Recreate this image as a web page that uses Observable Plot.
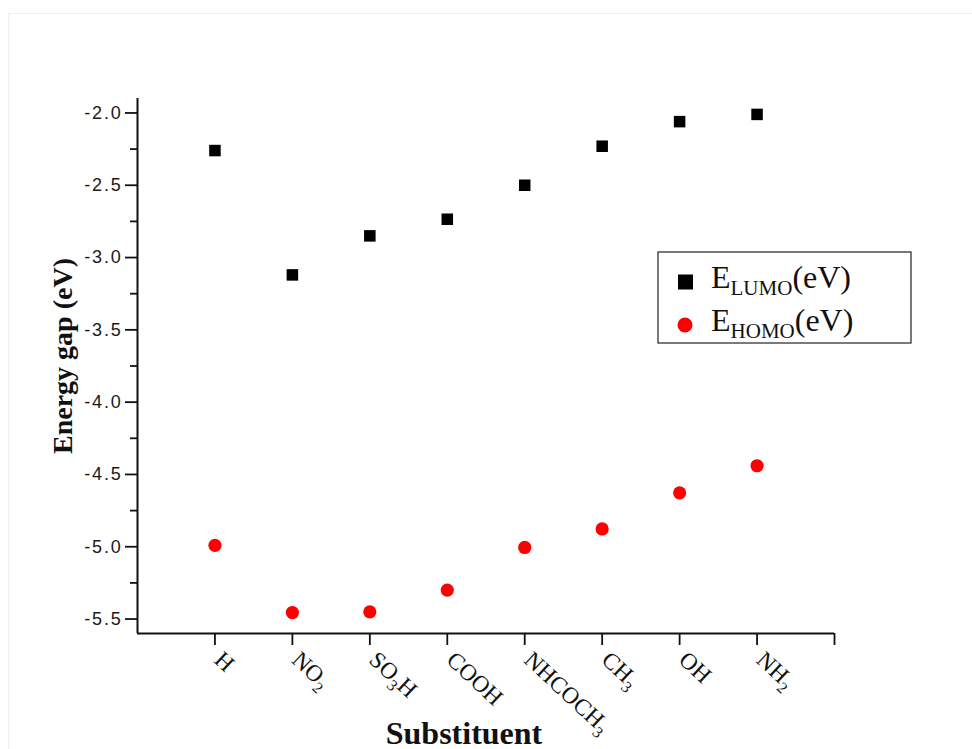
<!DOCTYPE html>
<html>
<head>
<meta charset="utf-8">
<script src="https://cdn.jsdelivr.net/npm/d3@7"></script>
<script src="https://cdn.jsdelivr.net/npm/@observablehq/plot@0.6"></script>
<style>
  html, body { margin: 0; padding: 0; background: #fff; }
  svg { display: block; }
</style>
</head>
<body>
<div id="chart"></div>
<script>
// ---- data ----
const substituents = ["H", "NO_2", "SO_3H", "COOH", "NHCOCH_3", "CH_3", "OH", "NH_2"];
const eLumo = [-2.26, -3.12, -2.85, -2.735, -2.50, -2.23, -2.06, -2.01];
const eHomo = [-4.99, -5.455, -5.45, -5.30, -5.005, -4.877, -4.627, -4.44];
const yMajorTicks = [-2.0, -2.5, -3.0, -3.5, -4.0, -4.5, -5.0, -5.5];
const yMinorTicks = [-2.25, -2.75, -3.25, -3.75, -4.25, -4.75, -5.25];
const yDomain = [-5.6, -1.9];
const legendNames = [["E", "LUMO", "(eV)"], ["E", "HOMO", "(eV)"]];
const yTitle = "Energy gap (eV)";
const xTitle = "Substituent";

const rows = substituents.map((s, i) => ({pos: i + 1, label: s, lumo: eLumo[i], homo: eHomo[i]}));
const xDomain = [0, substituents.length + 1];
const xTicks = d3.range(1, substituents.length + 2);
const serif = "'Liberation Serif','Times New Roman',serif";
const sans = "'Liberation Sans',Arial,sans-serif";

const plot = Plot.plot({
  width: 972,
  height: 749,
  marginLeft: 137,
  marginRight: 138,
  marginTop: 98,
  marginBottom: 116,
  x: {domain: xDomain},
  y: {domain: yDomain},
  style: {background: "transparent", color: "#111"},
  marks: [
    Plot.axisY({ticks: yMinorTicks, tickSize: 7, fill: "none", label: null, strokeWidth: 1.8}),
    Plot.axisY({ticks: yMajorTicks, tickSize: 12, tickPadding: 3, tickFormat: d => d.toFixed(1),
      fontSize: 18, fontFamily: sans, label: null, strokeWidth: 1.8, fill: "#1a1a1a"}),
    Plot.axisX({ticks: xTicks, tickSize: 12, fill: "none", label: null, strokeWidth: 1.8}),
    Plot.ruleX([xDomain[0]], {stroke: "#111", strokeWidth: 2}),
    Plot.ruleY([yDomain[0]], {stroke: "#111", strokeWidth: 2}),
    Plot.text(rows, {x: "pos", text: "label", frameAnchor: "bottom", dx: -2, dy: 28, rotate: 43,
      textAnchor: "start", lineAnchor: "bottom", fontSize: 23.5, fontFamily: serif, fill: "#111"}),
    Plot.text([yTitle], {frameAnchor: "left", dx: -74, dy: -10, rotate: -90, textAnchor: "middle",
      fontSize: 28, fontWeight: "bold", fontFamily: serif, fill: "#111"}),
    Plot.text([xTitle], {frameAnchor: "bottom", dx: -22, dy: 110, textAnchor: "middle", lineAnchor: "bottom",
      fontSize: 32, fontWeight: "bold", fontFamily: serif, fill: "#111"}),
    Plot.dot(rows, {x: "pos", y: "lumo", symbol: "square", r: 6.5, fill: "#000"}),
    Plot.dot(rows, {x: "pos", y: "homo", symbol: "circle", r: 6.6, fill: "#ff0000"})
  ]
});

document.getElementById("chart").appendChild(plot);
const svg = d3.select(plot);

// subscripts in x tick labels
svg.selectAll("text").each(function() {
  const t = this.textContent;
  if (!t.includes("_")) return;
  const sel = d3.select(this);
  sel.text(null);
  const parts = t.split(/_(\d)/);
  let shifted = false;
  parts.forEach((p, k) => {
    if (!p) return;
    const ts = sel.append("tspan").text(p);
    if (k % 2 === 1) { ts.attr("font-size", 16).attr("dy", 6); shifted = true; }
    else if (shifted) { ts.attr("dy", -6); shifted = false; }
  });
});

svg.selectAll('g[aria-label="y-axis tick label"] text').attr("letter-spacing", 1.8);

// faint page border
svg.insert("rect", ":first-child").attr("x", 8.5).attr("y", 13.5).attr("width", 980).attr("height", 760)
  .attr("fill", "none").attr("stroke", "#f0f0f0");

// legend
const lg = svg.append("g").attr("text-anchor", "start");
lg.append("rect").attr("x", 658).attr("y", 252).attr("width", 253).attr("height", 91)
  .attr("fill", "#fff").attr("stroke", "#333").attr("stroke-width", 1.3);
legendNames.forEach((n, i) => {
  const cy = 282 + i * 43;
  if (i === 0) lg.append("rect").attr("x", 678).attr("y", cy - 7.5).attr("width", 15).attr("height", 15).attr("fill", "#000");
  else lg.append("circle").attr("cx", 685).attr("cy", cy).attr("r", 7.5).attr("fill", "#ff0000");
  const tx = lg.append("text").attr("x", 711).attr("y", cy + 6).attr("text-anchor", "start")
    .attr("font-family", serif).attr("font-size", 32).attr("fill", "#111");
  tx.append("tspan").text(n[0]);
  tx.append("tspan").attr("font-size", 21).attr("dy", 7).text(n[1]);
  tx.append("tspan").attr("dy", -7).text(n[2]);
});
</script>
</body>
</html>
